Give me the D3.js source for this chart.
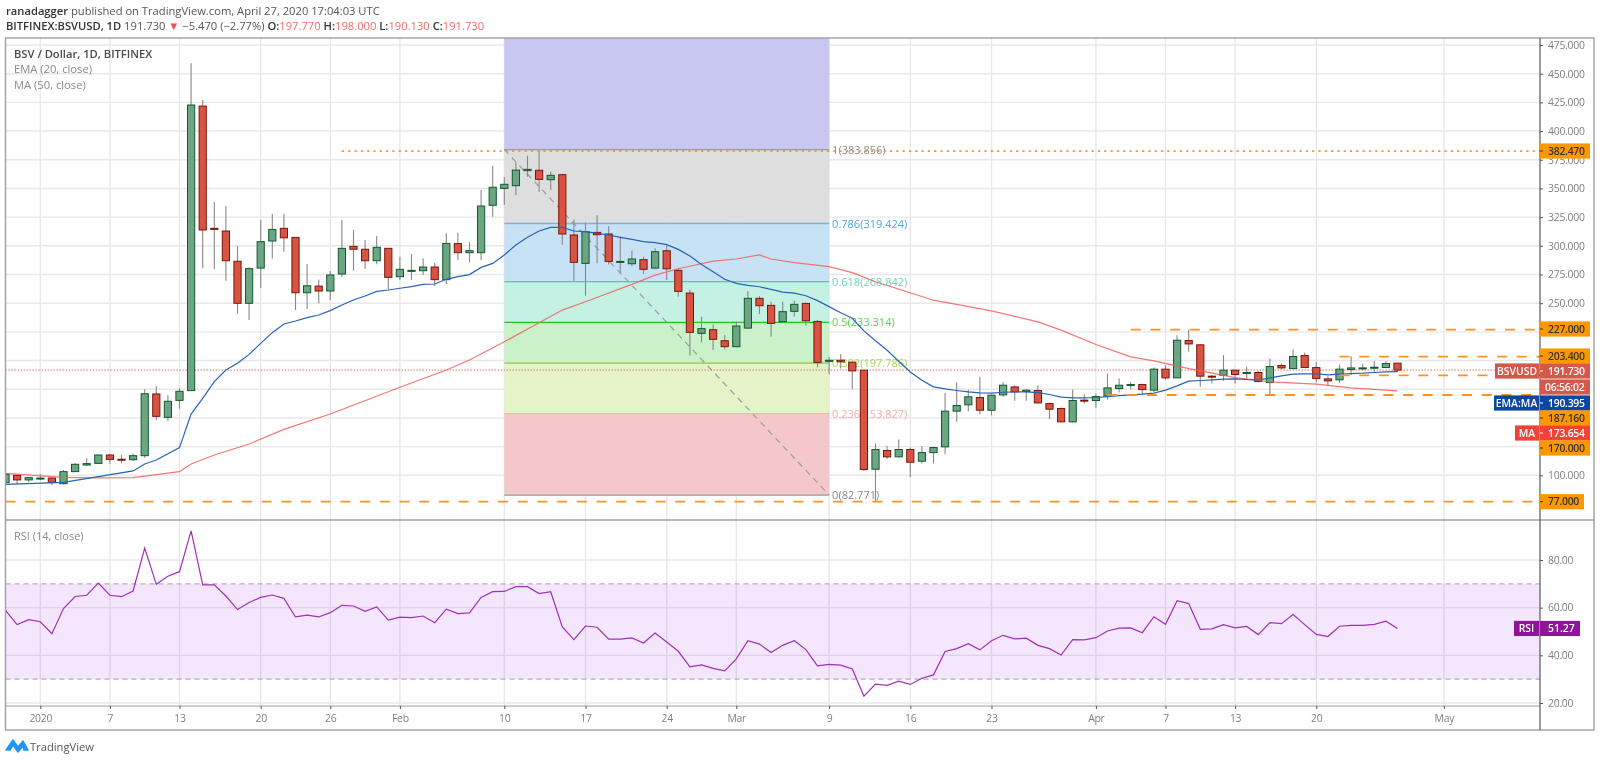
<!DOCTYPE html>
<html lang="en">
  <head>
    <meta charset="utf-8">
    <title>BSV / Dollar</title>
    <script src="https://cdn.jsdelivr.net/npm/d3@7"></script>
    <style>
      html, body { margin: 0; padding: 0; background: #fff; }
      svg { display: block; }
      text { font-family: "Open Sans", sans-serif; }
    </style>
  </head>
  <body>
    <script>
      // daily candles, first one is 2019-12-29
      var firstDay = "2019-12-29";
      var opens = [
        93.6,100,96,96.8,97.6,92.7,103.2,109,110.4,117.7,
        114,113.6,117.1,170.9,150.5,165.3,173.8,421.8,315.2,312.9,
        286.5,249.9,280.6,304.2,315.2,307.3,259.1,264.9,260.6,275.4,
        299.5,297,287,297.8,273.1,278.6,278.3,281.5,270.5,301.9,
        294,294,335.3,350,352.4,365.5,365.8,357.6,362,309.4,
        284.7,311.7,310.3,285.6,284.4,287.9,280.6,295.7,278.6,258.8,
        223.7,226.9,217.3,212.1,228.3,254.2,248.1,233.9,242.9,249.8,
        234.1,199.3,200.3,198.6,191.6,105.3,121.6,116.1,122.5,112.3,
        119.8,124.8,155.9,161.4,167.8,156.7,170.1,177,173,173.9,
        162.5,158.2,146.6,165.5,165.2,169,175.6,178.5,179.1,174.2,
        192.5,184.9,217.4,213.7,186.4,187.2,191.6,188.7,189.6,180.8,
        195.7,193,204.4,193.9,184,183.2,192.2,193,193.3,193.9,197.77
      ];
      var highs = [
        101,100.3,98.5,100.9,98,104.6,110.4,114.8,118,118.6,
        117.7,118.9,175,177.8,169.7,175.8,459,427,338.2,334.7,
        299.8,281.2,322.5,327.7,327.7,307.3,284.1,270.7,278.1,322.5,
        313.8,305,308.5,297.8,290.5,292.8,289,285.3,310.9,311.4,
        303,348.6,369.8,359.7,372.7,378.5,382.9,364.6,363.1,323,
        320.4,326.8,317.2,307.9,295.7,290.5,297.8,300.7,280.3,262,
        238.2,231.5,222.2,233.9,260.6,256.2,251.3,251.3,252.2,250.7,
        235.3,203.2,205.5,198.6,191.6,127.7,125.6,131.2,124.2,125.6,
        124.8,171.8,180.8,174.7,185.8,170.4,181.1,178.5,175,178.5,
        163.4,159,174.7,170.7,171.3,188.7,184.3,181.1,180,193.9,
        196,222.1,227,214.5,187.5,204.7,192,194.5,191,201.8,
        197.4,209.6,207,198.9,186.4,196.5,203.8,197.4,199.7,199.7,198
      ];
      var lows = [
        93,92.1,94,95.6,91.6,92.1,103,108.4,110,110.1,
        110.4,112.5,115.4,148.2,147.3,158.1,173.8,280.4,279.8,269.6,
        240.9,235.4,263.5,289,294.9,244.1,245,249.9,252.8,273.1,
        278.3,279.8,283.9,262,270.2,270.2,274.8,265,266.7,287.6,
        285.6,287.6,325.4,335.6,344.3,360.2,347.2,348.6,300.7,269.6,
        256.5,284.7,283.8,276,282.4,275.4,280.3,270.2,255.7,204.2,
        215.9,209.2,209.7,212.1,227.8,240.5,220.8,233.6,238.2,230.4,
        194.1,188.1,193,175,103.9,76.8,114.3,115.5,98.6,110.3,
        110.3,118.4,146.6,155.9,153.2,152.4,168.4,164.9,164.9,162.5,
        148.9,146.6,146,162.5,158.8,166,172.1,174.7,169.8,172.7,
        183.5,184.9,207.6,177.1,180,182.3,180,184.3,181.1,170.4,
        192.2,192.5,193.9,181.1,177.7,180.6,187.2,191.6,190.1,193.6,190.13
      ];
      var closes = [
        100.8,96,98,97.6,93.9,103.2,109.6,110.2,117.7,113.9,
        113.9,117.1,171.1,151.4,164.5,173.2,422.7,313.8,314.3,287,
        249.9,280.1,303.6,314.3,307,259.1,265.2,260.6,274.6,297.8,
        297,287,298.7,272.5,279.5,278.6,281.5,270.5,302.1,294,
        295.8,334.7,351,353.6,366,366.6,357.9,361.4,310.3,285.6,
        312.3,309.7,286.4,286.4,288.5,279.5,294.9,280,260.3,224.6,
        227.8,218.5,212.1,230.1,254.2,247.8,232.4,242.6,249,234.7,
        198.4,200.3,198.9,191,105,122.5,116.1,122.5,111.4,119.8,
        124.2,155.9,160.8,168.4,156.7,169.8,178.5,172.7,174.2,163.1,
        157.6,146.6,165.2,164.9,168.6,176.2,178.5,179.1,174.7,192.5,
        184.9,217.7,214.5,186.4,185.8,191.6,187.8,189.6,181.7,194.8,
        193.6,203.5,193.9,184.3,182.3,192.5,193.6,193.6,194.2,197.4,191.73
      ];
      var rsiValues = [
        58.9,52.9,55,54.1,49.1,59.6,64.7,65.2,70.3,65.2,
        64.6,67,85,69.8,73.2,75.1,92.2,69.6,69.6,64.9,
        59.2,62.2,64.3,65.3,63.9,56.1,56.9,56.1,57.9,61,
        60.7,58.5,60.3,54.8,56,55.8,56.5,53.7,59.4,57.5,
        57.8,64.3,66.7,66.8,68.8,68.8,65.9,66.7,51.9,46.6,
        52.3,51.8,46.8,46.8,47.3,45.2,49.4,45.6,41.7,35.2,
        36,34.5,33.5,38.5,46.1,44.7,41.2,44.2,46.1,42.4,
        35.6,36.2,35.9,34.3,22.9,27.9,27.4,29.2,27.8,30.4,
        31.8,41.6,42.8,44.9,42.3,46.1,48.4,46.9,47.2,44.2,
        42.8,40.1,46.6,46.5,47.4,50.2,51.4,51.5,49.5,56.2,
        53,62.9,61.7,50.9,51.1,52.9,51.5,52.1,48.7,53.7,
        53.3,57.1,52.9,48.8,47.9,52.2,52.6,52.6,53,54.3,51.27
      ];

      var emaPoints = [
        ["2019-12-29",92.1],["2020-01-03",93.9],["2020-01-09",103.8],["2020-01-10",109.9],["2020-01-11",113.3],
        ["2020-01-13",124.1],["2020-01-14",153.4],["2020-01-15",167],["2020-01-16",181.6],["2020-01-17",191.8],
        ["2020-01-18",197.6],["2020-01-19",205.4],["2020-01-20",215],["2020-01-21",224.3],["2020-01-22",231.9],
        ["2020-01-23",234.5],["2020-01-24",237.4],["2020-01-25",239.7],["2020-01-26",243.5],["2020-01-27",248.4],
        ["2020-01-28",252.8],["2020-01-29",256.3],["2020-01-30",260.3],["2020-01-31",261.5],["2020-02-01",263],
        ["2020-02-02",264.4],["2020-02-03",266.4],["2020-02-04",266.7],["2020-02-05",270.8],["2020-02-06",273.1],
        ["2020-02-07",274.9],["2020-02-08",281.2],["2020-02-09",284.7],["2020-02-10",292],["2020-02-11",300.7],
        ["2020-02-12",307.4],["2020-02-13",312.9],["2020-02-14",316.1],["2020-02-15",316.1],["2020-02-16",312.9],
        ["2020-02-17",312.3],["2020-02-18",310.9],["2020-02-19",309.4],["2020-02-20",307.4],["2020-02-21",305.6],
        ["2020-02-22",303.6],["2020-02-23",302.7],["2020-02-24",301],["2020-02-25",296.9],["2020-02-26",291.1],
        ["2020-02-27",283.8],["2020-02-28",277.4],["2020-02-29",270.8],["2020-03-01",267.3],["2020-03-02",265.5],
        ["2020-03-03",264.3],["2020-03-04",262],["2020-03-05",259.7],["2020-03-06",258.8],["2020-03-07",256.5],
        ["2020-03-08",252.2],["2020-03-09",247],["2020-03-10",241.7],["2020-03-11",236.8],["2020-03-12",225.9],
        ["2020-03-13",217.2],["2020-03-14",209],["2020-03-15",199.4],["2020-03-16",190.1],["2020-03-17",182.9],
        ["2020-03-18",177.1],["2020-03-19",175.3],["2020-03-20",173.9],["2020-03-21",172.7],["2020-03-22",171.8],
        ["2020-03-23",171.6],["2020-03-24",172.4],["2020-03-25",172.7],["2020-03-26",172.7],["2020-03-27",172.1],
        ["2020-03-28",170.4],["2020-03-29",168.1],["2020-03-30",167.5],["2020-03-31",167.5],["2020-04-01",167.8],
        ["2020-04-02",168.6],["2020-04-03",169.5],["2020-04-04",170.1],["2020-04-05",170.7],["2020-04-06",171.6],
        ["2020-04-07",174.2],["2020-04-08",177.9],["2020-04-09",182],["2020-04-10",182.6],["2020-04-11",183.2],
        ["2020-04-12",183.8],["2020-04-13",184],["2020-04-14",183.5],["2020-04-15",182.9],["2020-04-16",184.9],
        ["2020-04-17",186.7],["2020-04-18",188.1],["2020-04-19",188.4],["2020-04-20",188.4],["2020-04-21",187.5],
        ["2020-04-22",188.1],["2020-04-23",188.7],["2020-04-24",189],["2020-04-25",189.6],["2020-04-26",190.1],
        ["2020-04-27",190.4]
      ];
      var maPoints = [
        ["2019-12-29",101.7],["2020-01-03",98.2],["2020-01-06",97.7],["2020-01-09",98],["2020-01-13",103.2],
        ["2020-01-14",109.9],["2020-01-16",117.7],["2020-01-19",127.3],["2020-01-22",140],["2020-01-26",153.4],
        ["2020-02-01",176.7],["2020-02-05",191.8],["2020-02-07",200.5],["2020-02-10",216.4],["2020-02-13",233],
        ["2020-02-15",244],["2020-02-17",251.3],["2020-02-21",266.4],["2020-02-23",274.5],["2020-02-25",280],
        ["2020-02-28",286.7],["2020-03-01",288.5],["2020-03-03",292],["2020-03-04",288.5],["2020-03-06",285.3],
        ["2020-03-09",281.8],["2020-03-11",276.6],["2020-03-13",268.7],["2020-03-18",252.6],["2020-03-23",243.3],
        ["2020-03-27",233.7],["2020-03-29",226.5],["2020-04-01",214],["2020-04-04",203.2],["2020-04-06",199.7],
        ["2020-04-09",193],["2020-04-13",185.2],["2020-04-16",181.4],["2020-04-20",179.4],["2020-04-23",176.2],
        ["2020-04-27",173.6]
      ];

      var priceTicks = [475,450,425,400,375,350,325,300,275,250,100];
      var priceGrid = [475,450,425,400,375,350,325,300,275,250,225,200,175,150,125,100];
      var rsiTicks = [80,60,40,20];
      var timeTickDates = ["2020-01-01","2020-01-07","2020-01-13","2020-01-20","2020-01-26","2020-02-01","2020-02-10",
        "2020-02-17","2020-02-24","2020-03-01","2020-03-09","2020-03-16","2020-03-23","2020-04-01","2020-04-07",
        "2020-04-13","2020-04-20","2020-05-01"];
      var timeTickLabels = ["2020","7","13","20","26","Feb","10","17","24","Mar","9","16","23","Apr","7","13","20","May"];

      var fibRatios = [1.618,1,0.786,0.618,0.5,0.382,0.236,0];
      var fibPrices = [569.9,383.856,319.424,268.842,233.314,197.786,153.827,82.771];
      var fibFills = ["#c3c3f0","#dcdcdc","#c3e0f3","#bff0e2","#c6f0c6","#e3f3c4","#f3c4c4"];
      var fibLines = ["none","#9a9a9a","#74b4e0","#55c8aa","#1ec81e","#8cc84a","#f0b4b4","#9a9a9a"];
      var fibTextColors = ["none","#8a8a8a","#4ea6dc","#66d8b8","#4cd84c","#a6d84c","#f3a9a9","#8a8a8a"];
      var fibFrom = "2020-02-10", fibTo = "2020-03-09";

      var levelPrices = [382.47,227,203.4,187.16,170,77];
      var levelStarts = ["2020-01-27","2020-04-04","2020-04-22","2020-04-22","2020-04-02","2019-12-29"];

      var w = 1600, h = 763;
      var left = 5.5, axisX = 1540, rightEdge = 1594;
      var paneTop = 38, paneBottom = 520, rsiBottom = 706, frameBottom = 730;
      var axisFont = 10, axisSpacing = "-0.25px";

      var parse = d3.utcParse("%Y-%m-%d");
      var days = d3.utcDay.range(parse(firstDay), d3.utcDay.offset(parse(firstDay), closes.length));

      var x = d3.scaleUtc().domain([parse("2020-01-01"), parse("2020-05-01")]).range([40.3, 1443.9]);
      var y = d3.scaleLinear().domain([77, 475]).range([501.7, 45]);
      var yRsi = d3.scaleLinear().domain([20, 80]).range([703, 560]);

      var svg = d3.select("body").append("svg").attr("width", w).attr("height", h);

      svg.append("clipPath").attr("id", "mainClip").append("rect")
        .attr("x", left).attr("y", paneTop).attr("width", axisX - left).attr("height", paneBottom - paneTop);
      svg.append("clipPath").attr("id", "rsiClip").append("rect")
        .attr("x", left).attr("y", paneBottom).attr("width", axisX - left).attr("height", rsiBottom - paneBottom);

      // header
      var head = svg.append("g").attr("font-size", 11.2).attr("fill", "#555");
      var head1 = head.append("text").attr("x", 6).attr("y", 15);
      head1.append("tspan").attr("font-weight", 600).attr("fill", "#333").text("ranadagger");
      head1.append("tspan").text(" published on TradingView.com, April 27, 2020 17:04:03 UTC");
      var head2 = head.append("text").attr("x", 6).attr("y", 30);
      head2.append("tspan").attr("font-weight", 600).attr("fill", "#333").text("BITFINEX:BSVUSD, 1D");
      head2.append("tspan").text("  191.730 ");
      head2.append("tspan").attr("fill", "#ef5350").text("▼");
      head2.append("tspan").text(" −5.470 (−2.77%) ");
      [["O:","197.770"],["H:","198.000"],["L:","190.130"],["C:","191.730"]].forEach(function(pair) {
        head2.append("tspan").attr("font-weight", 600).attr("fill", "#333").text(pair[0]);
        head2.append("tspan").attr("fill", "#ef6c6c").text(pair[1] + " ");
      });

      // grid
      var grid = svg.append("g").attr("stroke", "#e8e8e8").attr("stroke-width", 1.4);
      grid.selectAll(".v").data(timeTickDates).enter().append("line")
        .attr("x1", function(d) { return x(parse(d)); })
        .attr("x2", function(d) { return x(parse(d)); })
        .attr("y1", paneTop).attr("y2", rsiBottom);
      grid.selectAll(".h").data(priceGrid).enter().append("line")
        .attr("x1", left).attr("x2", axisX)
        .attr("y1", function(d) { return y(d); })
        .attr("y2", function(d) { return y(d); });
      grid.selectAll(".r").data(rsiTicks).enter().append("line")
        .attr("x1", left).attr("x2", axisX)
        .attr("y1", function(d) { return yRsi(d); })
        .attr("y2", function(d) { return yRsi(d); });

      // fibonacci block
      var fib = svg.append("g").attr("clip-path", "url(#mainClip)");
      var fx0 = x(parse(fibFrom)), fx1 = x(parse(fibTo));
      fib.selectAll("rect").data(fibFills).enter().append("rect")
        .attr("x", fx0).attr("width", fx1 - fx0)
        .attr("y", function(d, i) { return y(fibPrices[i]); })
        .attr("height", function(d, i) { return y(fibPrices[i + 1]) - y(fibPrices[i]); })
        .attr("fill", function(d) { return d; })
        .attr("fill-opacity", 0.93)
        .style("mix-blend-mode", "multiply");
      fib.selectAll("line.level").data(fibPrices.slice(1)).enter().append("line")
        .attr("class", "level")
        .attr("x1", fx0).attr("x2", fx1)
        .attr("y1", function(d) { return y(d); })
        .attr("y2", function(d) { return y(d); })
        .attr("stroke", function(d, i) { return fibLines[i + 1]; })
        .attr("stroke-width", 1.3);
      fib.append("line")
        .attr("x1", fx0).attr("y1", y(fibPrices[1]))
        .attr("x2", fx1).attr("y2", y(fibPrices[7]))
        .attr("stroke", "#9a9a9a").attr("stroke-width", 1.2).attr("stroke-dasharray", "6 5");
      fib.selectAll("text").data(fibPrices.slice(1)).enter().append("text")
        .attr("x", fx1 + 3)
        .attr("y", function(d) { return y(d) + 4; })
        .attr("font-size", 11)
        .attr("fill", function(d, i) { return fibTextColors[i + 1]; })
        .text(function(d, i) { return fibRatios[i + 1] + "(" + d3.format(".3f")(d) + ")"; });

      // RSI band
      svg.append("rect")
        .attr("x", left).attr("width", axisX - left)
        .attr("y", yRsi(70)).attr("height", yRsi(30) - yRsi(70))
        .attr("fill", "#9c27f0").attr("fill-opacity", 0.115);
      svg.selectAll("line.rsiBound").data([70, 30]).enter().append("line")
        .attr("class", "rsiBound")
        .attr("x1", left).attr("x2", axisX)
        .attr("y1", function(d) { return yRsi(d); })
        .attr("y2", function(d) { return yRsi(d); })
        .attr("stroke", "#b5adba").attr("stroke-width", 1.1).attr("stroke-dasharray", "5 4");

      // last price dotted line
      svg.append("line")
        .attr("x1", left).attr("x2", axisX)
        .attr("y1", y(191.73)).attr("y2", y(191.73))
        .attr("stroke", "#d9534f").attr("stroke-opacity", 0.8)
        .attr("stroke-width", 1).attr("stroke-dasharray", "1.5 1.5");

      // candles
      var candleWidth = 7.2;
      var candles = svg.append("g").attr("clip-path", "url(#mainClip)");
      var candle = candles.selectAll("g").data(days).enter().append("g");
      candle.append("line")
        .attr("x1", function(d) { return x(d); })
        .attr("x2", function(d) { return x(d); })
        .attr("y1", function(d, i) { return y(highs[i]); })
        .attr("y2", function(d, i) { return y(lows[i]); })
        .attr("stroke", "#88888a").attr("stroke-width", 1.1);
      candle.append("rect")
        .attr("x", function(d) { return x(d) - candleWidth / 2; })
        .attr("width", candleWidth)
        .attr("y", function(d, i) { return y(Math.max(opens[i], closes[i])); })
        .attr("height", function(d, i) { return Math.max(1, Math.abs(y(opens[i]) - y(closes[i]))); })
        .attr("fill", function(d, i) { return closes[i] >= opens[i] ? "#6ba583" : "#d75442"; })
        .attr("stroke", function(d, i) { return closes[i] >= opens[i] ? "#125a2c" : "#7d140c"; })
        .attr("stroke-width", 1);

      // moving averages
      var priceLine = d3.line()
        .x(function(d) { return x(parse(d[0])); })
        .y(function(d) { return y(d[1]); });
      var maLines = svg.append("g").attr("clip-path", "url(#mainClip)").attr("fill", "none");
      maLines.append("path").attr("d", priceLine(maPoints))
        .attr("stroke", "#f0605a").attr("stroke-width", 1.2).attr("stroke-opacity", 0.85);
      maLines.append("path").attr("d", priceLine(emaPoints))
        .attr("stroke", "#2a62b8").attr("stroke-width", 1.2);

      // orange levels
      var levels = svg.append("g").attr("clip-path", "url(#mainClip)");
      levels.selectAll("line").data(levelPrices).enter().append("line")
        .attr("x1", function(d, i) { return x(parse(levelStarts[i])); })
        .attr("x2", axisX)
        .attr("y1", function(d) { return y(d); })
        .attr("y2", function(d) { return y(d); })
        .attr("stroke", "#ff9320").attr("stroke-width", 1.8)
        .attr("stroke-dasharray", function(d, i) { return i == 0 ? "2.2 4.1" : "10 9.7"; });

      // RSI line
      var rsiLine = d3.line()
        .x(function(d, i) { return x(days[i]); })
        .y(function(d) { return yRsi(d); });
      svg.append("path").attr("clip-path", "url(#rsiClip)")
        .attr("d", rsiLine(rsiValues))
        .attr("fill", "none").attr("stroke", "#a030b8").attr("stroke-width", 1.2);

      // frame
      svg.append("rect")
        .attr("x", left).attr("y", paneTop)
        .attr("width", rightEdge - left).attr("height", frameBottom - paneTop)
        .attr("fill", "none").attr("stroke", "#a0a0a0").attr("stroke-width", 1.4);
      svg.append("line").attr("x1", left).attr("x2", rightEdge)
        .attr("y1", paneBottom).attr("y2", paneBottom)
        .attr("stroke", "#a0a0a0").attr("stroke-width", 1.4);
      svg.append("line").attr("x1", left).attr("x2", axisX)
        .attr("y1", rsiBottom).attr("y2", rsiBottom)
        .attr("stroke", "#a0a0a0").attr("stroke-width", 1.2);
      svg.append("line").attr("x1", axisX).attr("x2", axisX)
        .attr("y1", paneTop).attr("y2", frameBottom)
        .attr("stroke", "#4a4a4a").attr("stroke-width", 1.1);

      // axes
      function styleAxis(g) {
        g.select(".domain").remove();
        g.selectAll("text").attr("fill", "#808080").attr("font-size", axisFont + 0.4)
          .attr("letter-spacing", axisSpacing)
          .attr("font-family", '"Open Sans", sans-serif');
        g.selectAll("line").attr("stroke", "#555");
      }
      svg.append("g").attr("transform", "translate(" + axisX + ",0)")
        .call(d3.axisRight(y).tickValues(priceTicks).tickSize(3).tickPadding(5).tickFormat(d3.format(".3f")))
        .call(styleAxis);
      svg.append("g").attr("transform", "translate(" + axisX + ",0)")
        .call(d3.axisRight(yRsi).tickValues(rsiTicks).tickSize(3).tickPadding(5).tickFormat(d3.format(".2f")))
        .call(styleAxis);
      svg.append("g").attr("transform", "translate(0," + rsiBottom + ")")
        .call(d3.axisBottom(x).tickValues(timeTickDates.map(parse)).tickSize(3).tickPadding(6)
          .tickFormat(function(d, i) { return timeTickLabels[i]; }))
        .call(styleAxis);

      // price tags on the axis, pushed apart like the platform does
      var tagLabels = ["382.470","227.000","203.400","191.730","06:56:02","190.395","187.160","173.654","170.000","77.000"];
      var tagPrices = [382.47,227,203.4,191.73,null,190.395,187.16,173.654,170,77];
      var tagRows = [151,329,356,371,387,403,418,433,448,501.7];
      var tagFills = ["#ff9800","#ff9800","#ff9800","#d4584c","#d4584c","#0d47a1","#ff9800","#f44336","#ff9800","#ff9800"];
      var tagInks = ["#333","#333","#333","#fff","#fff","#fff","#333","#fff","#333","#333"];
      var tagWidths = [50,50,50,50,50,50,50,50,50,44];
      var tags = svg.append("g").selectAll("g").data(tagLabels).enter().append("g")
        .attr("transform", function(d, i) { return "translate(" + axisX + "," + tagRows[i] + ")"; });
      tags.append("rect")
        .attr("y", -7.6).attr("height", 15.2)
        .attr("width", function(d, i) { return tagWidths[i]; })
        .attr("fill", function(d, i) { return tagFills[i]; });
      tags.append("line").attr("x2", 3)
        .attr("stroke", function(d, i) { return tagInks[i]; })
        .attr("display", function(d, i) { return tagPrices[i] === null ? "none" : null; });
      tags.append("text").attr("x", function(d, i) { return tagPrices[i] === null ? 5 : 8; }).attr("y", 3.7)
        .attr("font-size", axisFont + 0.4).attr("letter-spacing", axisSpacing).attr("font-weight", 600)
        .attr("fill", function(d, i) { return tagInks[i]; })
        .text(function(d) { return d; });

      var nameTags = [["BSVUSD",371,1495,"#d4584c"],["EMA:MA",403,1494,"#0d47a1"],["MA",433,1515,"#f44336"]];
      var names = svg.append("g").selectAll("g").data(nameTags).enter().append("g");
      names.append("rect")
        .attr("x", function(d) { return d[2]; })
        .attr("y", function(d) { return d[1] - 7.6; })
        .attr("width", function(d) { return axisX - 1 - d[2]; })
        .attr("height", 15.2)
        .attr("fill", function(d) { return d[3]; });
      names.append("text")
        .attr("x", function(d) { return (d[2] + axisX - 1) / 2; })
        .attr("y", function(d) { return d[1] + 3.7; })
        .attr("text-anchor", "middle").attr("font-size", axisFont + 0.4).attr("font-weight", 600).attr("fill", "#fff")
        .text(function(d) { return d[0]; });

      // RSI tags
      var rsiLast = rsiValues[rsiValues.length - 1];
      svg.append("rect").attr("x", axisX).attr("y", yRsi(rsiLast) - 7.6)
        .attr("width", 40).attr("height", 15.2).attr("fill", "#8e1599");
      svg.append("text").attr("x", axisX + 8).attr("y", yRsi(rsiLast) + 3.7)
        .attr("font-size", axisFont + 0.4).attr("font-weight", 600).attr("fill", "#fff").text(d3.format(".2f")(rsiLast));
      svg.append("rect").attr("x", 1514).attr("y", yRsi(rsiLast) - 7.6)
        .attr("width", 25).attr("height", 15.2).attr("fill", "#8e1599");
      svg.append("text").attr("x", 1526.5).attr("y", yRsi(rsiLast) + 3.7)
        .attr("text-anchor", "middle").attr("font-size", axisFont + 0.4).attr("font-weight", 600).attr("fill", "#fff").text("RSI");

      // legends
      svg.append("text").attr("x", 14).attr("y", 58)
        .attr("font-size", 11.2).attr("font-weight", 600).attr("fill", "#4a4a4a").text("BSV / Dollar, 1D, BITFINEX");
      svg.append("text").attr("x", 14).attr("y", 73)
        .attr("font-size", 11.2).attr("fill", "#8a8a8a").text("EMA (20, close)");
      svg.append("text").attr("x", 14).attr("y", 89)
        .attr("font-size", 11.2).attr("fill", "#8a8a8a").text("MA (50, close)");
      svg.append("text").attr("x", 14).attr("y", 540)
        .attr("font-size", 11).attr("fill", "#8a8a8a").text("RSI (14, close)");

      // logo
      svg.append("path")
        .attr("d", "M6 750 L13 740 L18 747 L23 741 L28 750 L24 750 L23 746 L18 752 L13 745 L10 750 Z")
        .attr("fill", "#2196f3").attr("stroke", "#2196f3").attr("stroke-width", 1.5).attr("stroke-linejoin", "round");
      svg.append("text").attr("x", 30).attr("y", 751)
        .attr("font-size", 11.2).attr("fill", "#555").text("TradingView");
    </script>
  </body>
</html>
